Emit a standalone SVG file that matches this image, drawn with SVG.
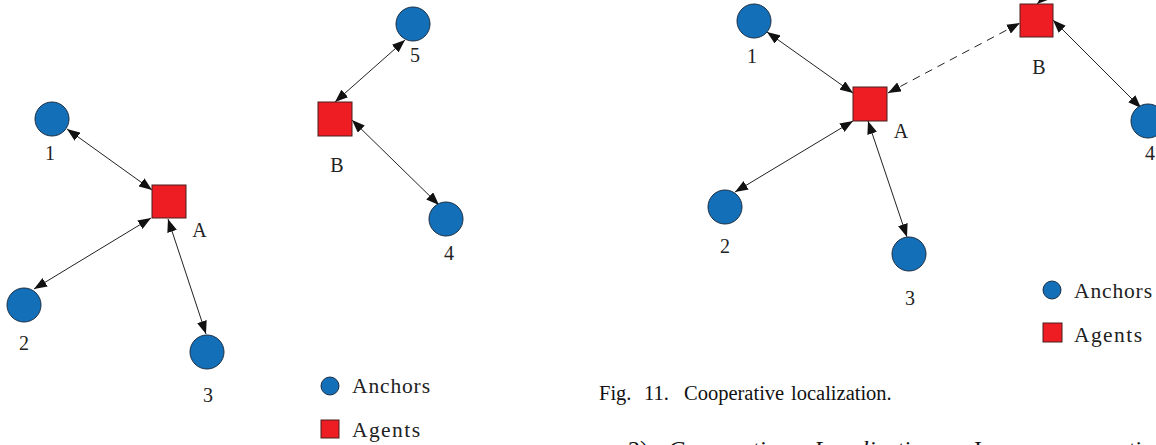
<svg xmlns="http://www.w3.org/2000/svg" width="1156" height="445" viewBox="0 0 1156 445">
<style>
.anchor{fill:#1370B8;stroke:#1B2F45;stroke-width:1}
.agent{fill:#EE1D24;stroke:#4A1E1E;stroke-width:1}
text{font-family:"Liberation Serif","Times New Roman","DejaVu Serif",serif;fill:#222}
.lbl{font-size:20px;text-anchor:middle}
.leg{font-size:21.5px}
.cap{font-size:20.5px;fill:#111}
.body{font-size:24px;fill:#111}
.edge{stroke:#222;stroke-width:1;fill:none;marker-start:url(#ah);marker-end:url(#ah)}
.dash{stroke-dasharray:8 6}
</style>
<defs>
<marker id="ah" markerUnits="userSpaceOnUse" markerWidth="13" markerHeight="10" refX="13" refY="5" orient="auto-start-reverse">
<path d="M0,0 L13,5 L0,10 z" fill="#111"/>
</marker>
</defs>
<rect width="1156" height="445" fill="#fff"/>
<g id="connectors">
<line class="edge" x1="67" y1="129" x2="152" y2="190"/>
<line class="edge" x1="34" y1="289" x2="151" y2="218"/>
<line class="edge" x1="168" y1="219" x2="206" y2="334"/>
<line class="edge" x1="335" y1="102" x2="405" y2="40"/>
<line class="edge" x1="352" y1="120" x2="439" y2="205"/>
<line class="edge" x1="767" y1="32" x2="853" y2="93"/>
<line class="edge dash" x1="888" y1="93" x2="1020" y2="23"/>
<line class="edge" x1="1053" y1="20" x2="1141" y2="108"/>
<line class="edge" x1="735" y1="192" x2="853" y2="121"/>
<line class="edge" x1="868" y1="121" x2="907" y2="237"/>
<line class="edge" x1="1037" y1="4" x2="1107" y2="-58"/>
</g>
<g id="left-anchor-1"><circle class="anchor" cx="52" cy="119" r="17"/><text class="lbl" x="50" y="160">1</text></g>
<g id="left-anchor-2"><circle class="anchor" cx="24" cy="305" r="17"/><text class="lbl" x="24" y="350">2</text></g>
<g id="left-anchor-3"><circle class="anchor" cx="207" cy="352" r="17"/><text class="lbl" x="208" y="402">3</text></g>
<g id="left-agent-A"><rect class="agent" x="152" y="185" width="34" height="33"/><text class="lbl" x="199.5" y="237">A</text></g>
<g id="mid-anchor-5"><circle class="anchor" cx="413" cy="24" r="17"/><text class="lbl" x="415" y="62">5</text></g>
<g id="mid-agent-B"><rect class="agent" x="318" y="102" width="34" height="34"/><text class="lbl" x="337" y="172">B</text></g>
<g id="mid-anchor-4"><circle class="anchor" cx="446" cy="219" r="17"/><text class="lbl" x="449" y="260">4</text></g>
<g id="legend-left">
<circle class="anchor" cx="330" cy="386" r="9"/><text class="leg" x="352" y="393" textLength="78">Anchors</text>
<rect class="agent" x="321" y="420" width="18" height="18"/><text class="leg" x="352" y="437" textLength="68">Agents</text>
</g>
<g id="right-anchor-1"><circle class="anchor" cx="754" cy="21" r="17"/><text class="lbl" x="752" y="63">1</text></g>
<g id="right-agent-A"><rect class="agent" x="853" y="87" width="34" height="34"/><text class="lbl" x="901" y="138">A</text></g>
<g id="right-agent-B"><rect class="agent" x="1020" y="4" width="33" height="33"/><text class="lbl" x="1039" y="74">B</text></g>
<g id="right-anchor-4"><circle class="anchor" cx="1148" cy="121" r="17"/><text class="lbl" x="1150" y="160">4</text></g>
<g id="right-anchor-2"><circle class="anchor" cx="725" cy="207" r="17"/><text class="lbl" x="725" y="253">2</text></g>
<g id="right-anchor-3"><circle class="anchor" cx="909" cy="254" r="17"/><text class="lbl" x="910" y="305">3</text></g>
<g id="legend-right">
<circle class="anchor" cx="1052" cy="290" r="9"/><text class="leg" x="1074" y="298" textLength="78">Anchors</text>
<rect class="agent" x="1043" y="323" width="19" height="19"/><text class="leg" x="1074" y="342" textLength="68">Agents</text>
</g>
<text class="cap" y="400"><tspan x="599">Fig.</tspan><tspan x="644">11.</tspan><tspan x="684">Cooperative</tspan><tspan x="791">localization.</tspan></text>
<text class="body" y="457"><tspan x="628">2)</tspan><tspan x="668" font-style="italic">Cooperative</tspan><tspan x="814" font-style="italic">Localization:</tspan><tspan x="974">In</tspan><tspan x="1000">a</tspan><tspan x="1017">noncooperative</tspan></text>
</svg>
